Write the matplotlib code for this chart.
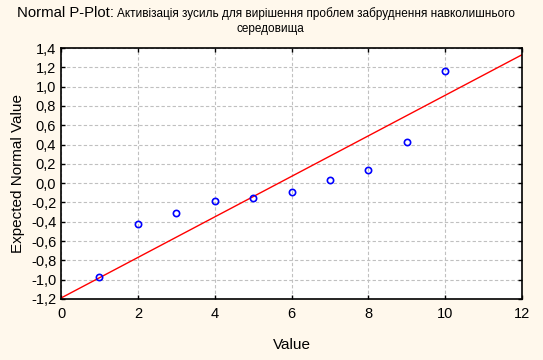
import matplotlib.pyplot as plt
from matplotlib.ticker import FuncFormatter
import numpy as np

plt.rcParams['font.family'] = ['Liberation Sans', 'DejaVu Sans']

# дані
values = [1, 2, 3, 4, 5, 6, 7, 8, 9, 10]
expected = [-0.97, -0.42, -0.31, -0.19, -0.15, -0.09, 0.03, 0.14, 0.43, 1.16]
line_x = [0, 12]
line_y = [-1.19, 1.33]

x_ticks = np.arange(0, 13, 2)
y_ticks = np.arange(-1.2, 1.41, 0.2)

fig = plt.figure(figsize=(5.43, 3.6), dpi=100, facecolor='#fff8ec')
ax = fig.add_axes([61 / 543, 1 - 299 / 360, 461 / 543, 251 / 360])
ax.set_facecolor('white')

ax.plot(line_x, line_y, color='red', linewidth=1, zorder=2)
ax.plot(values, expected, 'o', markerfacecolor='none', markeredgecolor='blue',
        markersize=4.5, markeredgewidth=1.2, zorder=3)

ax.set_xlim(0, 12)
ax.set_ylim(-1.2, 1.4)
ax.set_xticks(x_ticks)
ax.set_yticks(y_ticks)
ax.yaxis.set_major_formatter(FuncFormatter(lambda v, p: f'{v:.1f}'.replace('.', ',').replace('-0,0', '0,0')))
ax.tick_params(direction='in', length=3, width=1, labelsize=10.5, top=True, right=True, colors='black')
ax.tick_params(axis='x', pad=6)
ax.grid(True, linestyle=(0, (3, 2)), color='#c0c0c0', linewidth=0.8)
for s in ax.spines.values():
    s.set_linewidth(1.2)
    s.set_color('black')

ax.set_xlabel('Value', fontsize=11, labelpad=12)
ax.set_ylabel('Expected Normal Value', fontsize=11, labelpad=4)

# заголовок
fig.text(17 / 543, 1 - 13 / 360, 'Normal P-Plot:', fontsize=10.7, va='center', ha='left')
fig.text(117 / 543, 1 - 14 / 360, 'Активізація зусиль для вирішення проблем забруднення навколишнього',
         fontsize=8.5, va='center', ha='left')
fig.text(270 / 543, 1 - 29 / 360, 'середовища', fontsize=8.5, va='center', ha='center')

fig.savefig('out.png', dpi=100, facecolor=fig.get_facecolor())
